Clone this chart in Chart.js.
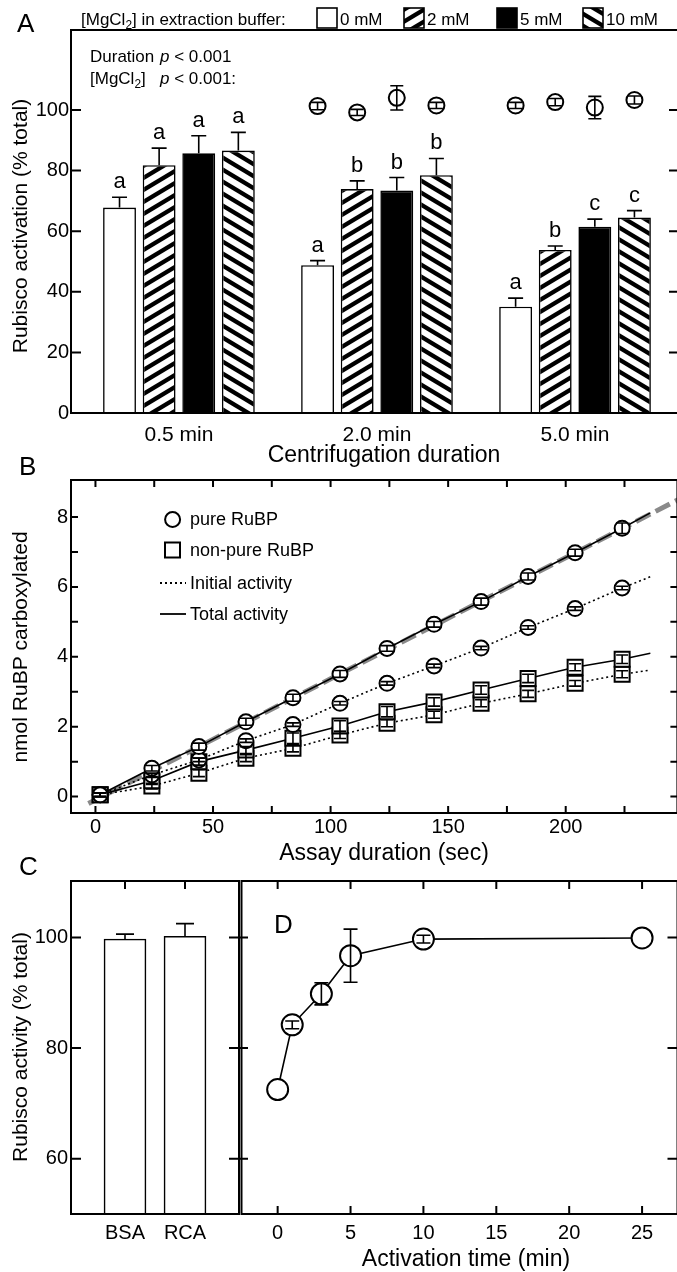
<!DOCTYPE html>
<html>
<head>
<meta charset="utf-8">
<script src="https://cdn.jsdelivr.net/npm/chart.js@4.4.1/dist/chart.umd.min.js"></script>
<style>
  html, body { margin: 0; padding: 0; background: #fff; overflow: hidden; }
  #fig { position: relative; width: 677px; height: 1272px; overflow: hidden; background: #fff; }
  #fig canvas { position: absolute; }
</style>
</head>
<body>
<div id="fig">
  <canvas id="chartA" width="690" height="470" style="left:0;top:0"></canvas>
  <canvas id="chartB" width="690" height="430" style="left:0;top:440px"></canvas>
  <canvas id="chartC" width="262" height="422" style="left:0;top:850px"></canvas>
  <canvas id="chartD" width="461" height="422" style="left:229px;top:850px"></canvas>
</div>
<script>
const FONT = '"Liberation Sans", Arial, sans-serif';
Chart.defaults.font.family = FONT;
Chart.defaults.color = '#000';
Chart.defaults.animation = false;
Chart.defaults.plugins.legend.display = false;
Chart.defaults.plugins.tooltip.enabled = false;

// Panel A: activation after centrifugation
const durations = ['0.5 min', '2.0 min', '5.0 min'];
const mgLevels = ['0 mM', '2 mM', '5 mM', '10 mM'];
const initMg0 = [67.8, 48.8, 35.1];
const initMg2 = [81.8, 73.9, 53.8];
const initMg5 = [85.7, 73.4, 61.5];
const initMg10 = [86.6, 78.5, 64.5];
const initErr0 = [3.4, 1.5, 2.8];
const initErr2 = [5.6, 2.7, 1.3];
const initErr5 = [5.8, 4.3, 2.5];
const initErr10 = [6.0, 5.5, 2.3];
const letters0 = ['a', 'a', 'a'];
const letters2 = ['a', 'b', 'b'];
const letters5 = ['a', 'b', 'c'];
const letters10 = ['a', 'b', 'c'];
const totMg0 = [null, 101.3, 101.5];
const totMg2 = [null, 99.2, 102.6];
const totMg5 = [null, 104.0, 100.8];
const totMg10 = [null, 101.5, 103.3];
const totErr0 = [null, 1.2, 1.0];
const totErr2 = [null, 1.0, 1.2];
const totErr5 = [null, 4.0, 3.7];
const totErr10 = [null, 1.0, 1.3];
const aTicks = [0, 20, 40, 60, 80, 100];

// Panel B: time courses
const assaySec = [2, 24, 44, 64, 84, 104, 124, 144, 164, 184, 204, 224];
const pureTotal = [0.05, 0.81, 1.43, 2.14, 2.83, 3.51, 4.24, 4.93, 5.58, 6.30, 6.98, 7.68];
const pureInitial = [0.05, 0.62, 1.05, 1.60, 2.06, 2.67, 3.24, 3.74, 4.25, 4.84, 5.38, 5.97];
const nonpureTotal = [0.05, 0.45, 1.00, 1.33, 1.67, 2.02, 2.43, 2.71, 3.05, 3.38, 3.70, 3.93];
const nonpureInitial = [0.05, 0.30, 0.67, 1.10, 1.38, 1.76, 2.10, 2.34, 2.67, 2.94, 3.24, 3.50];
const pureTotalErr = [0.05, 0.08, 0.1, 0.1, 0.1, 0.1, 0.08, 0.08, 0.1, 0.1, 0.1, 0.15];
const pureInitialErr = [0.05, 0.05, 0.05, 0.05, 0.05, 0.05, 0.05, 0.05, 0.05, 0.05, 0.05, 0.05];
const nonpureTotalErr = [0.05, 0.1, 0.1, 0.1, 0.15, 0.15, 0.15, 0.12, 0.12, 0.12, 0.1, 0.12];
const nonpureInitialErr = [0.05, 0.08, 0.1, 0.1, 0.1, 0.1, 0.1, 0.1, 0.1, 0.1, 0.08, 0.1];
const traceEndSec = 236;
const traceEnd = [8.12, 6.29, 4.10, 3.62];
const fitSec = [-3, 250];
const fitNmol = [-0.2, 8.57];
const bTicksX = [0, 50, 100, 150, 200];
const bMinorX = [25, 75, 125, 175, 225];
const bTicksY = [0, 2, 4, 6, 8];
const bMinorY = [1, 3, 5, 7];

// Panel C: RCA vs BSA
const cCats = ['BSA', 'RCA'];
const cValue = [99.7, 100.2];
const cErr = [0.9, 2.3];
const cdTicksY = [60, 80, 100];

// Panel D: activation time
const actTime = [0, 1, 3, 5, 10, 25];
const actValue = [72.5, 84.2, 89.8, 96.7, 99.7, 99.9];
const actErr = [0, 0.7, 2.0, 4.8, 0.7, 0];
const dTicksX = [0, 5, 10, 15, 20, 25];

// hatch patterns for the bars
function stripes(dir) {
  const w = 20, h = 12;
  const c = document.createElement('canvas');
  c.width = w; c.height = h;
  const g = c.getContext('2d');
  g.fillStyle = '#fff';
  g.fillRect(0, 0, w, h);
  g.strokeStyle = '#000';
  g.lineWidth = 4.3;
  for (let k = -2; k <= 2; k++) {
    g.beginPath();
    if (dir > 0) { g.moveTo(-w, 2 * h + k * h); g.lineTo(2 * w, -h + k * h); }
    else { g.moveTo(-w, -h + k * h); g.lineTo(2 * w, 2 * h + k * h); }
    g.stroke();
  }
  return g.createPattern(c, 'repeat');
}
const barFills = ['#fff', stripes(1), '#000', stripes(-1)];

// text helpers
function text(ctx, s, x, y, size, align, rotate) {
  ctx.save();
  ctx.font = size + 'px ' + FONT;
  ctx.fillStyle = '#000';
  ctx.textAlign = align || 'left';
  ctx.textBaseline = 'alphabetic';
  if (rotate) { ctx.translate(x, y); ctx.rotate(-Math.PI / 2); ctx.fillText(s, 0, 0); }
  else ctx.fillText(s, x, y);
  ctx.restore();
}
function rich(ctx, parts, x, y, size) {
  ctx.save();
  ctx.fillStyle = '#000';
  ctx.textAlign = 'left';
  ctx.textBaseline = 'alphabetic';
  let cx = x;
  parts.forEach(p => {
    const sz = p.sub ? size * 0.7 : size;
    ctx.font = (p.it ? 'italic ' : '') + sz + 'px ' + FONT;
    ctx.fillText(p.t, cx, y + (p.sub ? size * 0.25 : 0));
    cx += ctx.measureText(p.t).width;
  });
  ctx.restore();
}

// frame box and inward tick marks
const framePlugin = {
  id: 'frame',
  afterDraw(chart, args, opts) {
    const ctx = chart.ctx, a = chart.chartArea;
    ctx.save();
    ctx.strokeStyle = '#000';
    ctx.lineWidth = 2;
    ctx.strokeRect(a.left, a.top, a.right - a.left, a.bottom - a.top);
    ctx.beginPath();
    (opts.marks || []).forEach(m => {
      const s = chart.scales[m.scale];
      const out = m.out || 0;
      m.values.forEach(v => {
        const p = s.getPixelForValue(v);
        if (m.side === 'left') { ctx.moveTo(a.left - out, p); ctx.lineTo(a.left + m.len, p); }
        if (m.side === 'right') { ctx.moveTo(a.right + out, p); ctx.lineTo(a.right - m.len, p); }
        if (m.side === 'bottom') { ctx.moveTo(p, a.bottom + out); ctx.lineTo(p, a.bottom - m.len); }
        if (m.side === 'top') { ctx.moveTo(p, a.top - out); ctx.lineTo(p, a.top + m.len); }
      });
    });
    ctx.stroke();
    ctx.restore();
  }
};

// error bars (and significance letters) read from the datasets
const errorBarPlugin = {
  id: 'errorBars',
  afterDatasetsDraw(chart) {
    const ctx = chart.ctx;
    ctx.save();
    ctx.strokeStyle = '#000';
    ctx.fillStyle = '#000';
    chart.data.datasets.forEach((ds, i) => {
      if (!ds.errors) return;
      const meta = chart.getDatasetMeta(i);
      const ys = chart.scales[meta.yAxisID];
      meta.data.forEach((el, j) => {
        const raw = ds.data[j];
        const v = raw !== null && typeof raw === 'object' ? raw.y : raw;
        if (v == null) return;
        const e = ds.errors[j] || 0;
        const yTop = ys.getPixelForValue(v + e);
        if (e > 0) {
          const yBot = ds.oneSided ? el.y : ys.getPixelForValue(v - e);
          const hw = ds.capWidth / 2;
          ctx.lineWidth = 1.6;
          ctx.beginPath();
          ctx.moveTo(el.x, yBot); ctx.lineTo(el.x, yTop);
          ctx.moveTo(el.x - hw, yTop); ctx.lineTo(el.x + hw, yTop);
          if (!ds.oneSided) { ctx.moveTo(el.x - hw, yBot); ctx.lineTo(el.x + hw, yBot); }
          ctx.stroke();
        }
        if (ds.letters) text(ctx, ds.letters[j], el.x, yTop - 9, 22, 'center');
      });
    });
    ctx.restore();
  }
};

function pts(xs, ys) { return xs.map((x, i) => ({ x: x, y: ys[i] })); }
const tickFont = { family: FONT, size: 20 };
const noGrid = { display: false, drawTicks: false };

// ---------- Panel A ----------
const catPct = 0.8;
const initSets = [initMg0, initMg2, initMg5, initMg10];
const initErrs = [initErr0, initErr2, initErr5, initErr10];
const letterSets = [letters0, letters2, letters5, letters10];
const totSets = [totMg0, totMg2, totMg5, totMg10];
const totErrs = [totErr0, totErr2, totErr5, totErr10];

const aDatasets = [];
initSets.forEach((vals, k) => {
  aDatasets.push({
    type: 'bar',
    label: mgLevels[k],
    data: vals.map((v, i) => ({ x: i, y: v })),
    backgroundColor: barFills[k],
    borderColor: '#000',
    borderWidth: 1.6,
    categoryPercentage: catPct,
    barPercentage: 0.83,
    errors: initErrs[k],
    oneSided: true,
    capWidth: 15,
    letters: letterSets[k],
    order: 1
  });
});
totSets.forEach((vals, k) => {
  const off = (k - 1.5) * catPct / 4;
  aDatasets.push({
    type: 'scatter',
    label: mgLevels[k] + ' total',
    data: vals.map((v, i) => ({ x: i + off, y: v })),
    pointRadius: 8,
    pointBorderWidth: 2,
    pointBackgroundColor: '#fff',
    pointBorderColor: '#000',
    errors: totErrs[k],
    capWidth: 13,
    order: 0
  });
});

const decorA = {
  id: 'decorA',
  afterDraw(chart) {
    const ctx = chart.ctx;
    text(ctx, 'A', 17, 32, 26);
    rich(ctx, [{ t: '[MgCl' }, { t: '2', sub: true }, { t: '] in extraction buffer:' }], 81, 25, 17);
    const boxX = [317, 404, 497, 583];
    boxX.forEach((bx, k) => {
      ctx.save();
      ctx.fillStyle = barFills[k];
      ctx.fillRect(bx, 8, 20, 20);
      ctx.strokeStyle = '#000';
      ctx.lineWidth = 1.6;
      ctx.strokeRect(bx, 8, 20, 20);
      ctx.restore();
      text(ctx, mgLevels[k], bx + 23, 25, 17);
    });
    text(ctx, 'Duration', 90, 62, 17);
    rich(ctx, [{ t: 'p', it: true }, { t: ' < 0.001' }], 160, 62, 17);
    rich(ctx, [{ t: '[MgCl' }, { t: '2', sub: true }, { t: ']' }], 90, 84, 17);
    rich(ctx, [{ t: 'p', it: true }, { t: ' < 0.001:' }], 160, 84, 17);
    text(ctx, 'Rubisco activation (% total)', 27, 226, 21, 'center', true);
    text(ctx, 'Centrifugation duration', 384, 462, 23, 'center');
  }
};

new Chart(document.getElementById('chartA'), {
  type: 'bar',
  data: { datasets: aDatasets },
  options: {
    responsive: false,
    layout: { padding: { top: 30, right: 11, left: 0, bottom: 0 } },
    scales: {
      x: {
        type: 'linear', offset: false, min: -0.545, max: 2.525,
        grid: noGrid, border: { display: false },
        afterBuildTicks: s => { s.ticks = durations.map((d, i) => ({ value: i })); },
        ticks: { callback: v => durations[v], font: { family: FONT, size: 21 }, padding: 10, maxRotation: 0, autoSkip: false },
        afterFit: s => { s.height = 57; }
      },
      y: {
        min: 0, max: 126.4,
        grid: noGrid, border: { display: false },
        afterBuildTicks: s => { s.ticks = aTicks.map(v => ({ value: v })); },
        ticks: { font: tickFont, padding: 2 },
        afterFit: s => { s.width = 71; }
      }
    },
    plugins: {
      frame: { marks: [
        { scale: 'y', side: 'left', values: aTicks, len: 10 },
        { scale: 'y', side: 'right', values: aTicks, len: 10 }
      ] }
    }
  },
  plugins: [errorBarPlugin, framePlugin, decorA]
});

// ---------- Panel B ----------
const traceSec = [0].concat(assaySec, [traceEndSec]);
const markerStyle = {
  showLine: false,
  pointBorderWidth: 2,
  pointBackgroundColor: '#fff',
  pointBorderColor: '#000',
  capWidth: 12,
  order: 0
};
const lineStyle = { showLine: true, pointRadius: 0, borderColor: '#000', borderWidth: 1.6, order: 1 };

const decorB = {
  id: 'decorB',
  afterDraw(chart) {
    const ctx = chart.ctx;
    const oy = 440;
    text(ctx, 'B', 19, 475 - oy, 26);
    ctx.save();
    ctx.strokeStyle = '#000';
    ctx.lineWidth = 2;
    ctx.fillStyle = '#fff';
    ctx.beginPath();
    ctx.arc(172.6, 519.5 - oy, 7.5, 0, Math.PI * 2);
    ctx.fill(); ctx.stroke();
    ctx.fillRect(165, 550 - oy - 7.5, 15, 15);
    ctx.strokeRect(165, 550 - oy - 7.5, 15, 15);
    ctx.lineWidth = 1.8;
    ctx.setLineDash([2, 3]);
    ctx.beginPath(); ctx.moveTo(160, 583 - oy); ctx.lineTo(186, 583 - oy); ctx.stroke();
    ctx.setLineDash([]);
    ctx.beginPath(); ctx.moveTo(160, 614 - oy); ctx.lineTo(186, 614 - oy); ctx.stroke();
    ctx.restore();
    text(ctx, 'pure RuBP', 190, 525 - oy, 18);
    text(ctx, 'non-pure RuBP', 190, 556 - oy, 18);
    text(ctx, 'Initial activity', 190, 589 - oy, 18);
    text(ctx, 'Total activity', 190, 620 - oy, 18);
    text(ctx, 'nmol RuBP carboxylated', 27, 647 - oy, 21, 'center', true);
    text(ctx, 'Assay duration (sec)', 384, 860 - oy, 23, 'center');
  }
};

new Chart(document.getElementById('chartB'), {
  type: 'scatter',
  data: {
    datasets: [
      Object.assign({ label: 'pure total', data: pts(assaySec, pureTotal), pointStyle: 'circle', pointRadius: 7.5, errors: pureTotalErr }, markerStyle),
      Object.assign({ label: 'pure initial', data: pts(assaySec, pureInitial), pointStyle: 'circle', pointRadius: 7.5, errors: pureInitialErr }, markerStyle),
      Object.assign({ label: 'non-pure total', data: pts(assaySec, nonpureTotal), pointStyle: 'rect', pointRadius: 10.6, errors: nonpureTotalErr }, markerStyle),
      Object.assign({ label: 'non-pure initial', data: pts(assaySec, nonpureInitial), pointStyle: 'rect', pointRadius: 10.6, errors: nonpureInitialErr }, markerStyle),
      Object.assign({ label: 'pure total trace', data: pts(traceSec, [0].concat(pureTotal, [traceEnd[0]])) }, lineStyle),
      Object.assign({ label: 'pure initial trace', data: pts(traceSec, [0].concat(pureInitial, [traceEnd[1]])), borderDash: [2, 3], borderWidth: 2 }, lineStyle),
      Object.assign({ label: 'non-pure total trace', data: pts(traceSec, [0].concat(nonpureTotal, [traceEnd[2]])) }, lineStyle),
      Object.assign({ label: 'non-pure initial trace', data: pts(traceSec, [0].concat(nonpureInitial, [traceEnd[3]])), borderDash: [2, 3], borderWidth: 2 }, lineStyle),
      { label: 'fit', data: pts(fitSec, fitNmol), showLine: true, pointRadius: 0, borderColor: '#8a8a8a', borderWidth: 5, borderDash: [16, 6], order: 2 }
    ]
  },
  options: {
    responsive: false,
    layout: { padding: { top: 40, right: 11, left: 0, bottom: 0 } },
    scales: {
      x: {
        type: 'linear', min: -10.4, max: 247.5,
        grid: noGrid, border: { display: false },
        afterBuildTicks: s => { s.ticks = bTicksX.map(v => ({ value: v })); },
        ticks: { font: tickFont, padding: 2, maxRotation: 0 },
        afterFit: s => { s.height = 57; }
      },
      y: {
        min: -0.47, max: 9.06,
        grid: noGrid, border: { display: false },
        afterBuildTicks: s => { s.ticks = bTicksY.map(v => ({ value: v })); },
        ticks: { font: tickFont, padding: 3 },
        afterFit: s => { s.width = 71; }
      }
    },
    plugins: {
      frame: { marks: [
        { scale: 'y', side: 'left', values: bTicksY.concat(bMinorY), len: 7 },
        { scale: 'y', side: 'right', values: bTicksY.concat(bMinorY), len: 7 },
        { scale: 'x', side: 'bottom', values: bTicksX.concat(bMinorX), len: 7 },
        { scale: 'x', side: 'top', values: bTicksX.concat(bMinorX), len: 7 }
      ] }
    }
  },
  plugins: [errorBarPlugin, framePlugin, decorB]
});

// ---------- Panel C ----------
const decorC = {
  id: 'decorC',
  afterDraw(chart) {
    const ctx = chart.ctx;
    text(ctx, 'C', 19, 875 - 850, 26);
    text(ctx, 'Rubisco activity (% total)', 27, 1047 - 850, 21, 'center', true);
  }
};

new Chart(document.getElementById('chartC'), {
  type: 'bar',
  data: {
    datasets: [{
      label: 'activity',
      data: cValue.map((v, i) => ({ x: i + 1, y: v })),
      base: 50,
      backgroundColor: '#fff',
      borderColor: '#000',
      borderWidth: 1.6,
      barThickness: 42,
      errors: cErr,
      oneSided: true,
      capWidth: 18
    }]
  },
  options: {
    responsive: false,
    layout: { padding: { top: 31, right: 23, left: 0, bottom: 0 } },
    scales: {
      x: {
        type: 'linear', offset: false, min: 0.1, max: 2.9,
        grid: noGrid, border: { display: false },
        afterBuildTicks: s => { s.ticks = cCats.map((c, i) => ({ value: i + 1 })); },
        ticks: { callback: v => cCats[v - 1], font: tickFont, padding: 7, maxRotation: 0, autoSkip: false },
        afterFit: s => { s.height = 58; }
      },
      y: {
        min: 50, max: 110.2,
        grid: noGrid, border: { display: false },
        afterBuildTicks: s => { s.ticks = cdTicksY.map(v => ({ value: v })); },
        ticks: { font: tickFont, padding: 3 },
        afterFit: s => { s.width = 71; }
      }
    },
    plugins: {
      frame: { marks: [
        { scale: 'y', side: 'left', values: cdTicksY, len: 10 },
        { scale: 'y', side: 'right', values: cdTicksY, len: 10, out: 9 },
        { scale: 'x', side: 'top', values: [1, 2], len: 8 }
      ] }
    }
  },
  plugins: [errorBarPlugin, framePlugin, decorC]
});

// ---------- Panel D ----------
const decorD = {
  id: 'decorD',
  afterDraw(chart) {
    const ctx = chart.ctx;
    text(ctx, 'D', 274 - 229, 933 - 850, 26);
    text(ctx, 'Activation time (min)', 466 - 229, 1266 - 850, 23, 'center');
  }
};

new Chart(document.getElementById('chartD'), {
  type: 'scatter',
  data: {
    datasets: [{
      label: 'activation',
      data: pts(actTime, actValue),
      showLine: true,
      borderColor: '#000',
      borderWidth: 1.6,
      pointRadius: 10.5,
      pointBorderWidth: 2,
      pointBackgroundColor: '#fff',
      pointBorderColor: '#000',
      errors: actErr,
      capWidth: 14
    }]
  },
  options: {
    responsive: false,
    layout: { padding: { top: 31, right: 11, left: 10, bottom: 0 } },
    scales: {
      x: {
        type: 'linear', min: -2.48, max: 27.43,
        grid: noGrid, border: { display: false },
        afterBuildTicks: s => { s.ticks = dTicksX.map(v => ({ value: v })); },
        ticks: { font: tickFont, padding: 7, maxRotation: 0 },
        afterFit: s => { s.height = 58; }
      },
      y: { display: false, min: 50, max: 110.2 }
    },
    plugins: {
      frame: { marks: [
        { scale: 'y', side: 'right', values: cdTicksY, len: 10 },
        { scale: 'x', side: 'bottom', values: dTicksX, len: 8 },
        { scale: 'x', side: 'top', values: dTicksX, len: 8 }
      ] }
    }
  },
  plugins: [errorBarPlugin, framePlugin, decorD]
});
</script>
</body>
</html>
